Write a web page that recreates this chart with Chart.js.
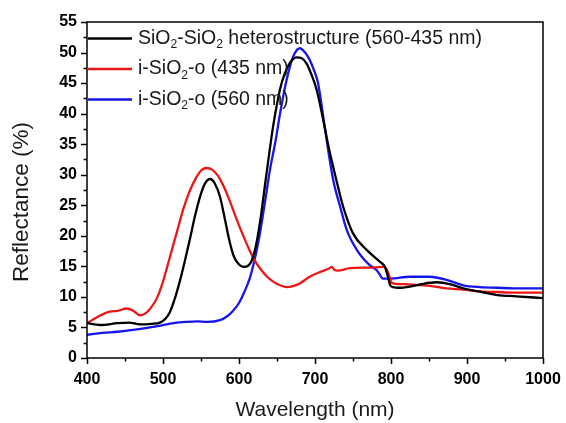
<!DOCTYPE html>
<html>
<head>
<meta charset="utf-8">
<script src="https://cdn.jsdelivr.net/npm/chart.js@4/dist/chart.umd.min.js"></script>
<style>
html,body{margin:0;padding:0;background:#fff;}
#wrap{width:566px;height:423px;}
</style>
</head>
<body>
<div id="wrap"><canvas id="c" width="566" height="423"></canvas></div>
<script>
// ---- data ----
const labelHetero = "SiO_2-SiO_2 heterostructure (560-435 nm)";
const label435 = "i-SiO_2-o (435 nm)";
const label560 = "i-SiO_2-o (560 nm)";

const heteroWl = [400,417,440,455,470,485,496,503,509,515,522,529,536,542,549,555,562,568,575,581,587,593,600,606,612,617,622,628,636,645,654,660,667,676,682,689,695,702,710,718,728,737,750,768,785,792,796,799,803,810,825,840,860,880,895,915,940,965,1000];
const heteroR  = [5.7,5.4,5.7,5.8,5.5,5.6,5.8,6.4,7.5,9.5,12.5,16.0,19.8,23.2,26.5,28.5,29.3,28.6,26.4,23.0,19.4,16.7,15.3,14.9,15.1,16.0,18.2,22.5,30.0,38.0,44.0,46.5,48.3,49.2,49.1,48.2,46.5,44.0,39.5,34.5,29.2,24.8,20.4,17.7,15.8,14.9,13.3,11.9,11.6,11.5,11.7,12.1,12.4,12.0,11.4,10.9,10.3,10.1,9.8];

const s435Wl = [400,415,430,440,452,460,470,477,484,492,500,509,518,527,535,544,551,558,565,572,579,586,593,600,607,614,621,628,637,645,654,663,672,680,693,707,718,722,726,730,746,772,790,794,797,801,810,829,851,873,895,917,939,961,1000];
const s435R  = [5.7,6.8,7.6,7.7,8.1,7.8,7.0,7.3,8.2,9.8,12.5,16.5,20.5,24.5,27.3,29.6,30.8,31.1,30.8,29.9,28.3,26.3,24.0,21.7,19.6,17.6,15.9,14.6,13.3,12.5,11.9,11.6,11.8,12.2,13.3,14.1,14.6,14.9,14.4,14.3,14.7,14.8,14.9,14.6,13.7,12.3,12.1,12.0,11.8,11.4,11.2,10.9,10.8,10.7,10.7];

const s560Wl = [400,420,440,461,483,500,514,530,545,558,575,584,592,600,607,614,620,627,632,636,641,648,654,660,667,673,680,687,693,699,704,712,718,724,733,742,755,764,772,781,785,789,799,825,851,873,895,917,940,961,1000];
const s560R  = [3.8,4.1,4.3,4.6,5.0,5.4,5.7,5.9,6.0,5.9,6.2,6.8,7.7,9.0,10.8,13.0,15.8,20.0,23.8,27.0,31.0,35.5,40.0,44.0,47.7,49.8,50.7,50.0,48.8,47.0,45.0,38.5,33.5,29.1,24.8,20.9,17.7,16.2,15.2,14.4,13.7,13.0,13.0,13.3,13.3,12.8,11.9,11.6,11.5,11.4,11.4];

const xTicks = [400,500,600,700,800,900,1000];
const yTicks = [0,5,10,15,20,25,30,35,40,45,50,55];
const xTitle = "Wavelength (nm)";
const yTitle = "Reflectance (%)";

function pts(xs, ys){ return xs.map((x,i)=>({x:x,y:ys[i]})); }

// ---- plugins ----
const frameAndTicks = {
  id:'frameAndTicks',
  afterDraw(chart){
    const ctx = chart.ctx, a = chart.chartArea;
    const xs = chart.scales.x, ys = chart.scales.y;
    ctx.save();
    ctx.strokeStyle = '#000';
    ctx.lineWidth = 1.5;
    ctx.beginPath();
    ctx.rect(a.left, a.top, a.right-a.left, a.bottom-a.top);
    ctx.stroke();
    ctx.beginPath();
    for(let v=xTicks[0]; v<=xTicks[xTicks.length-1]; v+=50){
      const p = Math.round(xs.getPixelForValue(v))+0.5;
      const len = (v%100===0)?6:3.5;
      ctx.moveTo(p, a.bottom); ctx.lineTo(p, a.bottom+len);
    }
    for(let v=yTicks[0]; v<=yTicks[yTicks.length-1]+0.01; v+=2.5){
      const p = Math.round(ys.getPixelForValue(v))+0.5;
      const len = (Math.abs(v%5)<0.01)?6:3.5;
      ctx.moveTo(a.left, p); ctx.lineTo(a.left-len, p);
    }
    ctx.stroke();
    // y axis title
    ctx.save();
    ctx.translate(22, 202);
    ctx.rotate(-Math.PI/2);
    ctx.textAlign = 'center';
    ctx.textBaseline = 'middle';
    ctx.fillStyle = '#1a1a1a';
    ctx.font = '22.5px "Liberation Sans", Arial, sans-serif';
    ctx.fillText(yTitle, 0, 0);
    ctx.restore();
    ctx.restore();
  }
};

function drawSubText(ctx, text, x, y, size){
  // "_2" denotes subscript 2
  const parts = text.split('_');
  let cx = x;
  parts.forEach((part, i)=>{
    if(i>0){
      const sub = part[0];
      ctx.font = (size*0.62)+'px "Liberation Sans", Arial, sans-serif';
      ctx.fillText(sub, cx, y+size*0.32);
      cx += ctx.measureText(sub).width;
      part = part.slice(1);
    }
    ctx.font = size+'px "Liberation Sans", Arial, sans-serif';
    ctx.fillText(part, cx, y);
    cx += ctx.measureText(part).width;
  });
}

const legendPlugin = {
  id:'customLegend',
  afterDraw(chart){
    const ctx = chart.ctx, a = chart.chartArea;
    ctx.save();
    ctx.textBaseline = 'middle';
    const rowH = 30.5, y0 = a.top + 16.5;
    chart.data.datasets.forEach((ds, i)=>{
      const y = y0 + i*rowH;
      ctx.strokeStyle = ds.borderColor;
      ctx.lineWidth = 2.5;
      ctx.beginPath();
      ctx.moveTo(a.left+1, y); ctx.lineTo(a.left+45, y);
      ctx.stroke();
      ctx.fillStyle = '#1a1a1a';
      drawSubText(ctx, ds.label, a.left+51, y, 19.5);
    });
    ctx.restore();
  }
};

const ds = (label, xs, ys, color) => ({
  label, data: pts(xs, ys), borderColor: color, backgroundColor: color,
  borderWidth: 2.3, pointRadius: 0, tension: 0.4, cubicInterpolationMode: 'monotone', fill:false
});

const tickFont = { family: '"Liberation Sans", Arial, sans-serif', size: 16, weight: 'bold' };

new Chart(document.getElementById('c'), {
  type: 'line',
  data: {
    datasets: [
      ds(labelHetero, heteroWl, heteroR, '#000000'),
      ds(label435, s435Wl, s435R, '#ee1515'),
      ds(label560, s560Wl, s560R, '#1515ee')
    ]
  },
  options: {
    responsive: false,
    animation: false,
    devicePixelRatio: 1,
    layout: { padding: { top: 22, right: 23, left: 0, bottom: 0 } },
    plugins: { legend: { display: false }, tooltip: { enabled: false } },
    scales: {
      x: {
        type: 'linear', min: 400, max: 1000,
        afterFit(s){ s.height = 65; s.paddingLeft = 0; s.paddingRight = 0; },
        afterBuildTicks(s){ s.ticks = xTicks.map(v=>({value:v})); },
        grid: { drawOnChartArea: false, drawTicks: false },
        border: { display: false },
        ticks: { padding: 12, color: '#000', font: tickFont, callback: v => String(v) },
        title: { display: true, text: xTitle, color: '#1a1a1a', padding: { top: 0, bottom: 0 }, font: { family: '"Liberation Sans", Arial, sans-serif', size: 21 } }
      },
      y: {
        type: 'linear', min: 0, max: 55,
        afterFit(s){ s.width = 87; s.paddingTop = 0; s.paddingBottom = 0; },
        afterBuildTicks(s){ s.ticks = yTicks.map(v=>({value:v})); },
        grid: { drawOnChartArea: false, drawTicks: false },
        border: { display: false },
        ticks: { padding: 10, color: '#000', font: tickFont, callback: v => String(v) },
        title: { display: false, text: yTitle }
      }
    }
  },
  plugins: [frameAndTicks, legendPlugin]
});
</script>
</body>
</html>
